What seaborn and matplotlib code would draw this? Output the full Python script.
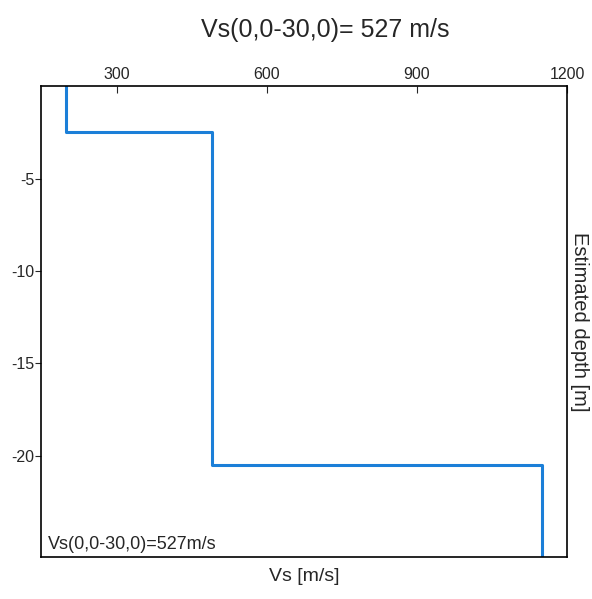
import matplotlib
matplotlib.use("Agg")
import matplotlib.pyplot as plt
import seaborn as sns
import pandas as pd

# layered Vs profile
layer_vs = [200, 490, 1150]          # m/s
layer_top = [0.0, -2.5, -20.5]       # m
layer_bottom = [-2.5, -20.5, -25.5]  # m
x_ticks = [300, 600, 900, 1200]
y_ticks = [-5, -10, -15, -20]
vs30 = 527

sns.set_style("white")
plt.rcParams['font.family'] = ['Liberation Sans', 'DejaVu Sans']
plt.rcParams['axes.unicode_minus'] = False

# step profile points
xs, ys = [], []
for v, t, b in zip(layer_vs, layer_top, layer_bottom):
    xs += [v, v]
    ys += [t, b]
df = pd.DataFrame({"vs": xs, "depth": ys})

fig = plt.figure(figsize=(5.92, 5.99), dpi=100)
ax = fig.add_axes([0.07, 0.07, 0.888, 0.786])
sns.lineplot(data=df, x="vs", y="depth", sort=False, estimator=None,
             color="#1b7fd8", linewidth=2.2, ax=ax)

ax.set_xlim(150, 1200)
ax.set_ylim(-25.5, 0)
ax.xaxis.tick_top()
ax.set_xticks(x_ticks)
ax.set_yticks(y_ticks)
ax.tick_params(axis="x", direction="in", length=5, labelsize=11.5, pad=3,
               top=True, bottom=False)
ax.tick_params(axis="y", direction="out", length=4, labelsize=11.5, pad=1,
               left=True)
for s in ax.spines.values():
    s.set_color("black")
    s.set_linewidth(1.2)

ax.set_xlabel("Vs [m/s]", fontsize=14)
ax.xaxis.set_label_position("bottom")
ax.xaxis.labelpad = 8
ax.set_ylabel("Estimated depth [m]", fontsize=14.5, rotation=-90, labelpad=16)
ax.yaxis.set_label_position("right")

ax.text(0.012, 0.008, f"Vs(0,0-30,0)={vs30}m/s", transform=ax.transAxes,
        fontsize=13, ha="left", va="bottom")
fig.suptitle(f"Vs(0,0-30,0)= {vs30} m/s", fontsize=18, x=0.55, y=0.97)

fig.savefig("out.png", dpi=100)
